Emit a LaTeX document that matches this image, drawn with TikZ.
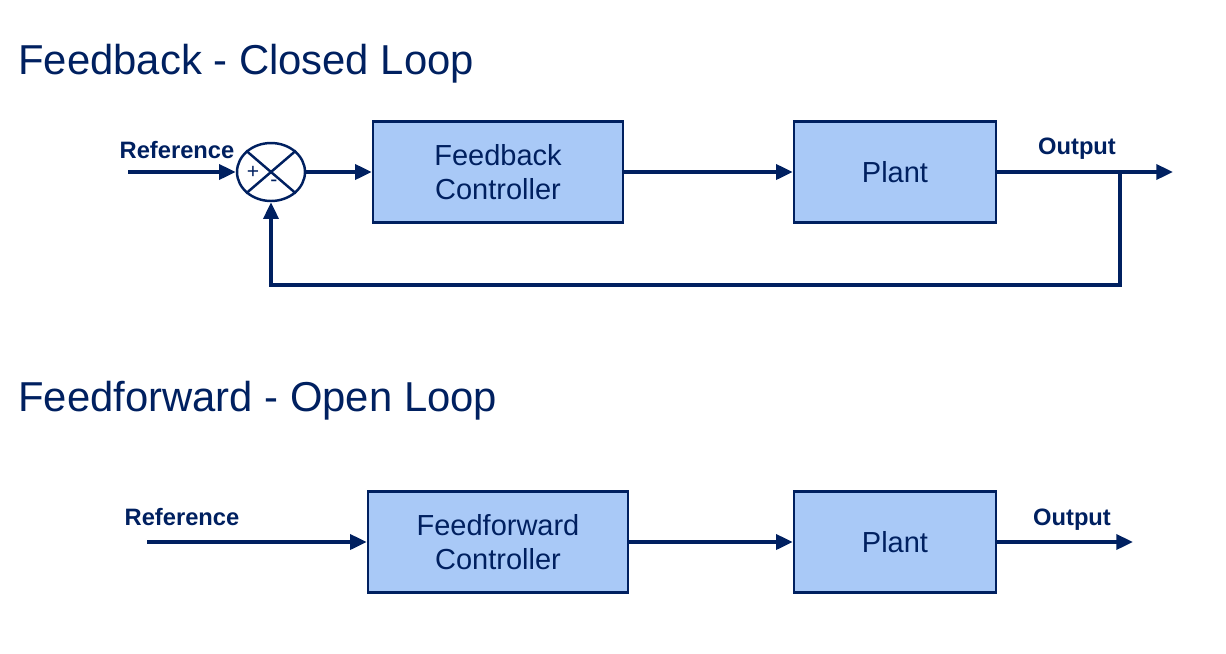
\documentclass[tikz,border=0pt]{standalone}
\usepackage{fontspec}
\setmainfont{Liberation Sans}
\usepackage{tikz}
\usetikzlibrary{positioning,arrows.meta,shapes.geometric}
\definecolor{cNavy}{RGB}{0,32,96}
\definecolor{cFill}{RGB}{169,201,247}
\tikzset{
  blk/.style={rectangle, draw=cNavy, fill=cFill, line width=1.4pt,
              minimum height=2.02cm, align=center, text=cNavy,
              font=\fontsize{16.5}{19.5}\selectfont},
  sumj/.style={ellipse, draw=cNavy, fill=white, line width=1.4pt,
               minimum width=1.36cm, minimum height=1.16cm, inner sep=0pt},
  sgn/.style={text=cNavy, font=\fontsize{12}{14}\selectfont, inner sep=0pt},
  flow/.style={-{Triangle[length=9.5pt,width=8.5pt]}, draw=cNavy, line width=2.1pt},
  lbl/.style={font=\fontsize{13.5}{16}\selectfont\bfseries, text=cNavy, inner sep=0pt},
  ttl/.style={font=\fontsize{23.8}{28}\selectfont, text=cNavy, inner sep=0pt, anchor=base west},
}
\begin{document}
\begin{tikzpicture}[x=0.02cm, y=-0.02cm]
  \useasboundingbox (0,0) rectangle (1226,653);

  % ---- closed loop ----
  \node[ttl] (t1) at (18,74) {Feedback - Closed Loop};

  \coordinate (r1) at (128,172);
  \node[lbl, anchor=base] (rl1) at (177,158) {Reference};
  \node[sumj] (sum) at (271,172) {};
  \draw[cNavy, line width=1.4pt] (sum.north west) -- (sum.south east)
        (sum.north east) -- (sum.south west);
  \node[sgn] (pl) at (253,172) {+};
  \node[sgn] (mi) at (274,183) {-};

  \node[blk, minimum width=5cm] (fbc) at (498,172) {Feedback\\Controller};
  \node[blk, minimum width=4.04cm] (pl1) at (895,172) {Plant};

  \coordinate (tap) at (1120,172);
  \coordinate (o1) at (1173,172);
  \coordinate (fbb) at (1120,285);
  \node[lbl, anchor=base] (ol1) at (1077,154) {Output};

  \draw[flow] (r1) -- (sum);
  \draw[flow] (sum) -- (fbc);
  \draw[flow] (fbc) -- (pl1);
  \draw[flow] (pl1) -- (o1);
  \draw[flow] (tap) -- (fbb) -| (sum.south);

  % ---- open loop ----
  \node[ttl] (t2) at (18,411) {Feedforward - Open Loop};

  \coordinate (r2) at (147,542);
  \node[lbl, anchor=base] (rl2) at (182,525) {Reference};
  \node[blk, minimum width=5.2cm] (ffc) at (498,542) {Feedforward\\Controller};
  \node[blk, minimum width=4.04cm] (pl2) at (895,542) {Plant};
  \coordinate (o2) at (1133,542);
  \node[lbl, anchor=base] (ol2) at (1072,525) {Output};

  \draw[flow] (r2) -- (ffc);
  \draw[flow] (ffc) -- (pl2);
  \draw[flow] (pl2) -- (o2);
\end{tikzpicture}
\end{document}
